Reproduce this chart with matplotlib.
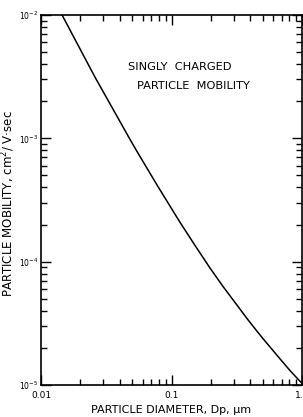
import numpy as np
import matplotlib
matplotlib.use("Agg")
import matplotlib.pyplot as plt
from matplotlib.ticker import LogLocator, FixedLocator, NullFormatter

# values
diameter = [0.0145, 0.0259, 0.0481, 0.0545, 0.0774, 0.116, 0.151, 0.197, 0.248,
            0.379, 0.452, 0.502, 0.678, 0.809, 1.0]
mobility = [1.0e-2, 3.14e-3, 9.8e-4, 7.8e-4, 4.19e-4, 2.09e-4, 1.36e-4, 8.9e-5, 6.3e-5,
            3.46e-5, 2.73e-5, 2.38e-5, 1.63e-5, 1.31e-5, 1.03e-5]
xticks = [0.01, 0.1, 1.0]
xticklabels = ["0.01", "0.1", "1.0"]
yticks = [1e-5, 1e-4, 1e-3, 1e-2]
yticklabels = [r"$10^{-5}$", r"$10^{-4}$", r"$10^{-3}$", r"$10^{-2}$"]

plt.rcParams['font.family'] = ['DejaVu Sans']
fig = plt.figure(figsize=(3.03, 4.17), dpi=100)
ax = fig.add_axes([41/303, 1 - 385/417, 261/303, 370/417])

ax.plot(diameter, mobility, color="black", lw=1.1)
ax.set_xscale("log")
ax.set_yscale("log")
ax.set_xlim(0.01, 1.0)
ax.set_ylim(1e-5, 1e-2)

ax.xaxis.set_major_locator(FixedLocator(xticks))
ax.set_xticklabels(xticklabels)
ax.yaxis.set_major_locator(FixedLocator(yticks))
ax.set_yticklabels(yticklabels)
ax.xaxis.set_minor_locator(LogLocator(base=10, subs=np.arange(2, 10)))
ax.yaxis.set_minor_locator(LogLocator(base=10, subs=np.arange(2, 10)))
ax.xaxis.set_minor_formatter(NullFormatter())
ax.yaxis.set_minor_formatter(NullFormatter())

ax.tick_params(which="both", direction="in", top=True, right=True, width=1.0, labelsize=6.5, pad=4)
ax.tick_params(axis="y", labelsize=5.5, pad=2)
ax.tick_params(which="major", length=7)
ax.tick_params(which="minor", length=4)
for s in ax.spines.values():
    s.set_linewidth(1.2)

ax.set_xlabel("PARTICLE DIAMETER, Dp, μm", fontsize=8, labelpad=4)
ax.set_ylabel("PARTICLE MOBILITY, cm$^2$/ V·sec", fontsize=8.5)
ax.yaxis.set_label_coords(-0.092, 0.49)

ax.text(0.333, 0.859, "SINGLY  CHARGED", transform=ax.transAxes, fontsize=8.2, ha="left", va="center")
ax.text(0.368, 0.808, "PARTICLE  MOBILITY", transform=ax.transAxes, fontsize=8.2, ha="left", va="center")

fig.savefig("out.png", dpi=100)
